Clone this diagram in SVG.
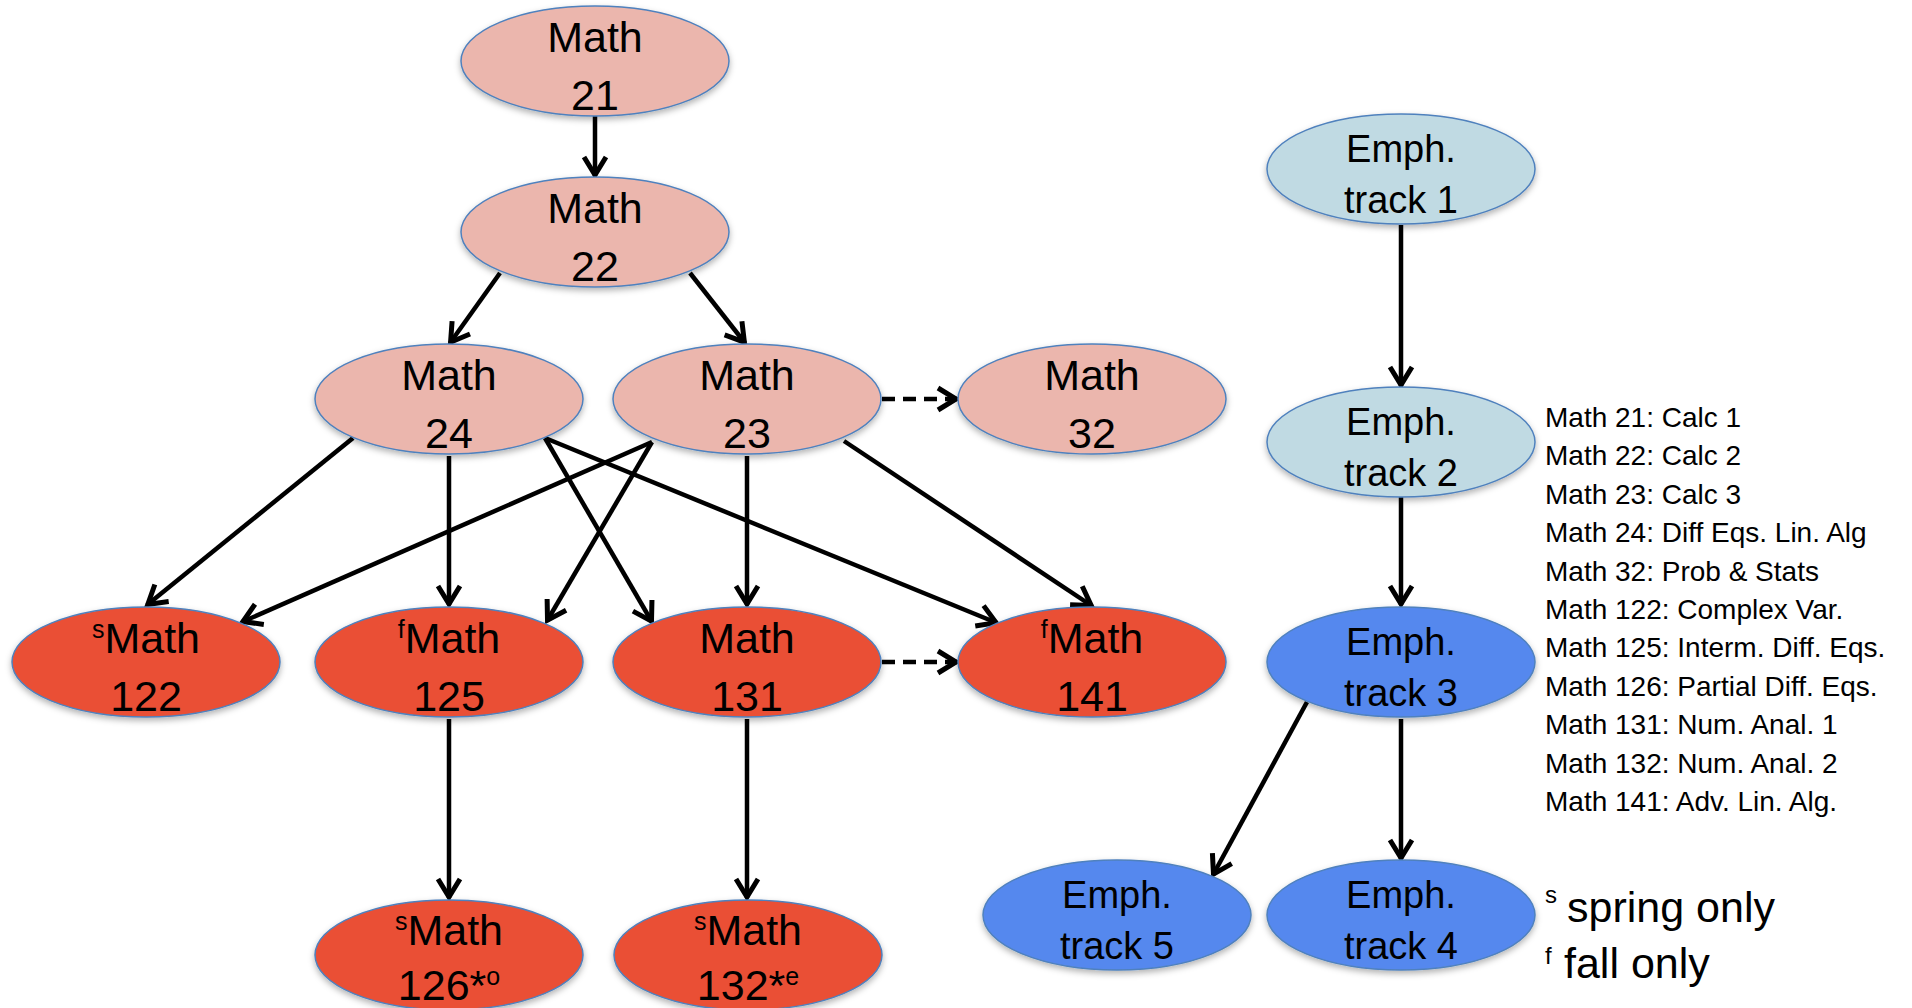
<svg xmlns="http://www.w3.org/2000/svg" width="1912" height="1008" viewBox="0 0 1912 1008">
<style>
.n{stroke:#4F81BD;stroke-width:1.5;filter:url(#sh)}
.pk{fill:#EBB6AD}
.rd{fill:#EA4F35}
.lb{fill:#C0DAE3}
.bl{fill:#5588EE}
.t{font-family:"Liberation Sans",Arial,sans-serif;font-size:43px;fill:#000;text-anchor:middle}
.e{font-family:"Liberation Sans",Arial,sans-serif;font-size:38px;fill:#000;text-anchor:middle}
.sup{font-size:25px}
.lg{font-family:"Liberation Sans",Arial,sans-serif;font-size:28px;fill:#000}
.lk{font-family:"Liberation Sans",Arial,sans-serif;font-size:43px;fill:#000}
.ls{font-family:"Liberation Sans",Arial,sans-serif;font-size:24px;fill:#000}
.c{stroke:#000;stroke-width:4.5;fill:none;marker-end:url(#arr)}
.d{stroke-dasharray:13 8}
</style>
<defs>
<filter id="sh" x="-10%" y="-10%" width="120%" height="135%">
<feDropShadow dx="0" dy="3" stdDeviation="3" flood-color="#000" flood-opacity="0.3"/>
</filter>
<marker id="arr" viewBox="-26 -15 30 30" refX="0" refY="0" markerWidth="30" markerHeight="30" markerUnits="userSpaceOnUse" orient="auto">
<path d="M-19,-11 L-1,0 L-19,11" fill="none" stroke="#000" stroke-width="5" stroke-linejoin="miter"/>
</marker>
</defs>
<rect width="1912" height="1008" fill="#fff"/>

<g id="connectors">
<line class="c" x1="595" y1="116" x2="595" y2="176"/>
<line class="c" x1="500" y1="273" x2="450" y2="343"/>
<line class="c" x1="690" y1="273" x2="745" y2="343"/>
<line class="c d" x1="882" y1="399" x2="957" y2="399"/>
<line class="c" x1="353" y1="438" x2="147" y2="605"/>
<line class="c" x1="449" y1="456" x2="449" y2="605"/>
<line class="c" x1="545" y1="438" x2="652" y2="622"/>
<line class="c" x1="545" y1="438" x2="997" y2="623"/>
<line class="c" x1="652" y1="442" x2="242" y2="622"/>
<line class="c" x1="652" y1="442" x2="547" y2="621"/>
<line class="c" x1="747" y1="456" x2="747" y2="605"/>
<line class="c" x1="844" y1="441" x2="1092" y2="606"/>
<line class="c d" x1="882" y1="662" x2="957" y2="662"/>
<line class="c" x1="449" y1="719" x2="449" y2="898"/>
<line class="c" x1="747" y1="719" x2="747" y2="898"/>
<line class="c" x1="1401" y1="225" x2="1401" y2="386"/>
<line class="c" x1="1401" y1="497" x2="1401" y2="605"/>
<line class="c" x1="1307" y1="702" x2="1213" y2="875"/>
<line class="c" x1="1401" y1="719" x2="1401" y2="859"/>
</g>

<g id="math21"><ellipse class="n pk" cx="595" cy="61" rx="134" ry="55"/>
<text class="t" x="595" y="52">Math</text><text class="t" x="595" y="110">21</text></g>
<g id="math22"><ellipse class="n pk" cx="595" cy="232" rx="134" ry="55"/>
<text class="t" x="595" y="223">Math</text><text class="t" x="595" y="281">22</text></g>
<g id="math24"><ellipse class="n pk" cx="449" cy="399" rx="134" ry="55"/>
<text class="t" x="449" y="390">Math</text><text class="t" x="449" y="448">24</text></g>
<g id="math23"><ellipse class="n pk" cx="747" cy="399" rx="134" ry="55"/>
<text class="t" x="747" y="390">Math</text><text class="t" x="747" y="448">23</text></g>
<g id="math32"><ellipse class="n pk" cx="1092" cy="399" rx="134" ry="55"/>
<text class="t" x="1092" y="390">Math</text><text class="t" x="1092" y="448">32</text></g>

<g id="math122"><ellipse class="n rd" cx="146" cy="662" rx="134" ry="55"/>
<text class="t" x="146" y="653"><tspan class="sup" dy="-15">s</tspan><tspan dy="15">Math</tspan></text><text class="t" x="146" y="711">122</text></g>
<g id="math125"><ellipse class="n rd" cx="449" cy="662" rx="134" ry="55"/>
<text class="t" x="449" y="653"><tspan class="sup" dy="-15">f</tspan><tspan dy="15">Math</tspan></text><text class="t" x="449" y="711">125</text></g>
<g id="math131"><ellipse class="n rd" cx="747" cy="662" rx="134" ry="55"/>
<text class="t" x="747" y="653">Math</text><text class="t" x="747" y="711">131</text></g>
<g id="math141"><ellipse class="n rd" cx="1092" cy="662" rx="134" ry="55"/>
<text class="t" x="1092" y="653"><tspan class="sup" dy="-15">f</tspan><tspan dy="15">Math</tspan></text><text class="t" x="1092" y="711">141</text></g>
<g id="math126"><ellipse class="n rd" cx="449" cy="955" rx="134" ry="55"/>
<text class="t" x="449" y="945"><tspan class="sup" dy="-15">s</tspan><tspan dy="15">Math</tspan></text><text class="t" x="449" y="1000">126*<tspan class="sup" dy="-15">o</tspan></text></g>
<g id="math132"><ellipse class="n rd" cx="748" cy="955" rx="134" ry="55"/>
<text class="t" x="748" y="945"><tspan class="sup" dy="-15">s</tspan><tspan dy="15">Math</tspan></text><text class="t" x="748" y="1000">132*<tspan class="sup" dy="-15">e</tspan></text></g>

<g id="track1"><ellipse class="n lb" cx="1401" cy="169" rx="134" ry="55"/>
<text class="e" x="1401" y="162">Emph.</text><text class="e" x="1401" y="213">track 1</text></g>
<g id="track2"><ellipse class="n lb" cx="1401" cy="442" rx="134" ry="55"/>
<text class="e" x="1401" y="435">Emph.</text><text class="e" x="1401" y="486">track 2</text></g>
<g id="track3"><ellipse class="n bl" cx="1401" cy="662" rx="134" ry="55"/>
<text class="e" x="1401" y="655">Emph.</text><text class="e" x="1401" y="706">track 3</text></g>
<g id="track5"><ellipse class="n bl" cx="1117" cy="915" rx="134" ry="55"/>
<text class="e" x="1117" y="908">Emph.</text><text class="e" x="1117" y="959">track 5</text></g>
<g id="track4"><ellipse class="n bl" cx="1401" cy="915" rx="134" ry="55"/>
<text class="e" x="1401" y="908">Emph.</text><text class="e" x="1401" y="959">track 4</text></g>

<g id="legend">
<text class="lg" x="1545" y="427">Math 21: Calc 1</text>
<text class="lg" x="1545" y="465">Math 22: Calc 2</text>
<text class="lg" x="1545" y="504">Math 23: Calc 3</text>
<text class="lg" x="1545" y="542">Math 24: Diff Eqs. Lin. Alg</text>
<text class="lg" x="1545" y="581">Math 32: Prob &amp; Stats</text>
<text class="lg" x="1545" y="619">Math 122: Complex Var.</text>
<text class="lg" x="1545" y="657">Math 125: Interm. Diff. Eqs.</text>
<text class="lg" x="1545" y="696">Math 126: Partial Diff. Eqs.</text>
<text class="lg" x="1545" y="734">Math 131: Num. Anal. 1</text>
<text class="lg" x="1545" y="773">Math 132: Num. Anal. 2</text>
<text class="lg" x="1545" y="811">Math 141: Adv. Lin. Alg.</text>
<text class="ls" x="1545" y="903">s</text>
<text class="lk" x="1567" y="922">spring only</text>
<text class="ls" x="1545" y="964">f</text>
<text class="lk" x="1564" y="978">fall only</text>
</g>
</svg>
